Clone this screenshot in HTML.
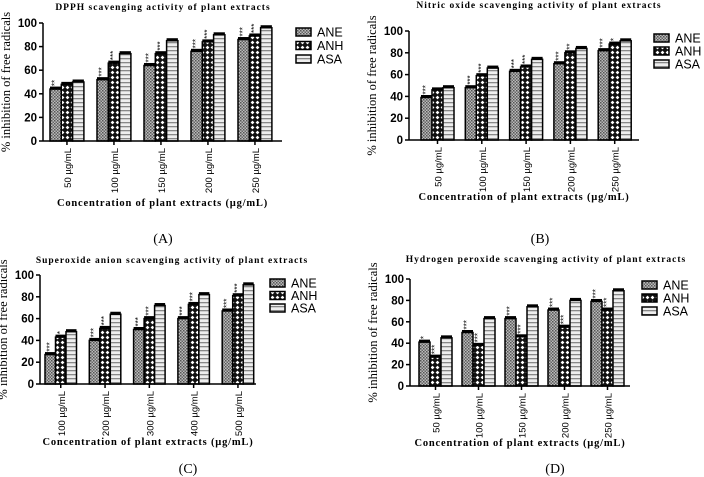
<!DOCTYPE html>
<html><head><meta charset="utf-8"><style>
body{margin:0;background:#fff;}
svg{display:block;font-family:"Liberation Sans",sans-serif;}
.t{font-family:"Liberation Serif",serif;font-weight:bold;}
</style></head><body>
<svg id="s" width="704" height="477" viewBox="0 0 704 477">
<defs>
<pattern id="pANE" width="3" height="3" patternUnits="userSpaceOnUse"><rect width="3" height="3" fill="#bbb"/><rect width="1.5" height="1.5" fill="#555"/><rect x="1.5" y="1.5" width="1.5" height="1.5" fill="#666"/></pattern>
<pattern id="pANH" width="5" height="5" patternUnits="userSpaceOnUse"><rect width="5" height="5" fill="#111"/><path d="M2.5 0.6L4.4 2.5 2.5 4.4 0.6 2.5z" fill="#fff"/></pattern>
<pattern id="pASA" width="4" height="4" patternUnits="userSpaceOnUse"><rect width="4" height="4" fill="#eee"/><rect y="2" width="4" height="1.3" fill="#888"/></pattern>
</defs>
</svg>
<script>
const series = ['ANE','ANH','ASA'];
const catsA = ['50','100','150','200','250'];
const catsC = ['100','200','300','400','500'];
const valsA_ANE=[44,52,64,76,86], valsA_ANH=[48,66,74,84,89], valsA_ASA=[50,74,85,90,96];
const valsB_ANE=[39,48,63,70,82], valsB_ANH=[46,59,67,80,88], valsB_ASA=[48,66,74,84,91];
const valsC_ANE=[27,40,50,60,67], valsC_ANH=[43,51,60,73,81], valsC_ASA=[48,64,72,82,91];
const valsD_ANE=[41,50,63,71,79], valsD_ANH=[27,38,46,55,71], valsD_ASA=[45,63,74,80,89];
const starsA=[['**','***','***','***','***'],['','***','***','***','***'],['','','','','']];
const starsB=[['***','***','***','***','***'],['','***','***','**','*'],['','','','','']];
const starsC=[['***','***','***','***','***'],['*','***','***','***','***'],['','','','','']];
const starsD=[['*','***','***','***','***'],['***','***','***','***','***'],['','','','','']];
const yTicks=[0,20,40,60,80,100];
const NS='http://www.w3.org/2000/svg';
const svg=document.getElementById('s');
function mk(tag,attrs,parent,text){const e=document.createElementNS(NS,tag);for(const k in attrs)e.setAttribute(k,attrs[k]);if(text!==undefined)e.textContent=text;(parent||svg).appendChild(e);return e;}
function panel(cfg){
  const g=mk('g',{});
  
  
  const y=v=>cfg.y0+(cfg.y100-cfg.y0)*v/100;
  const bx=(i,s)=>cfg.first+i*cfg.pitch+s*cfg.bw;
  const tt=mk('text',{x:cfg.tx,y:cfg.ty,'text-anchor':'middle','font-size':'9.5',class:'t','letter-spacing':'1'},g,cfg.title);
  
  
  yTicks.forEach(t=>{
    mk('line',{x1:cfg.ax-4,x2:cfg.ax,y1:y(t),y2:y(t),stroke:'#000','stroke-width':1.5},g);
    const l=mk('text',{x:cfg.ax-6,y:y(t)+4,'text-anchor':'end','font-size':'11.5','font-weight':'bold'},g,t);
    
    
  });
  const yt=mk('text',{transform:`translate(${cfg.ax-33},${(cfg.y0+cfg.y100)/2}) rotate(-90)`,'text-anchor':'middle','font-size':'12.5',style:'font-family:"Liberation Serif",serif'},g,'% inhibition of free radicals');
  
  
  cfg.vals.forEach((arr,s)=>arr.forEach((v,i)=>{
    const r=mk('rect',{x:bx(i,s),y:y(v),width:cfg.bw,height:y(0)-y(v),fill:`url(#p${series[s]})`,stroke:'#000','stroke-width':1.5},g);
    
    
    mk('line',{x1:bx(i,s),x2:bx(i,s)+cfg.bw,y1:y(v)-1,y2:y(v)-1,stroke:'#000','stroke-width':3},g);
    const st=cfg.stars[s][i];
    if(st){const sx=bx(i,s)+cfg.bw/2+2,sy=y(v)-3;
      const e=mk('text',{transform:`translate(${sx},${sy}) rotate(-90)`,'font-size':'8','text-anchor':'start'},g,st);
      
      }
  }));
  mk('line',{x1:cfg.ax,x2:cfg.ax,y1:y(100),y2:y(0),stroke:'#000','stroke-width':1.5},g);
  mk('line',{x1:cfg.ax,x2:cfg.xend,y1:y(0),y2:y(0),stroke:'#000','stroke-width':1.5},g);
  cfg.cats.forEach((c,i)=>{
    const cx=bx(i,1)+cfg.bw/2;
    mk('line',{x1:cx,x2:cx,y1:y(0),y2:y(0)+4,stroke:'#000','stroke-width':1.5},g);
    const l=mk('text',{transform:`translate(${cx+4},${y(0)+7}) rotate(-90)`,'text-anchor':'end','font-size':'9.5'},g,c+' \u00b5g/mL');
    
    
  });
  const xt=mk('text',{x:(cfg.ax+cfg.xend)/2,y:cfg.xty,'text-anchor':'middle','font-size':'10.5',class:'t','letter-spacing':'0.8'},g,'Concentration of plant extracts (\u00b5g/mL)');
  
  
  series.forEach((s,k)=>{
    const ly=cfg.ly+k*cfg.lstep;
    const sw=mk('rect',{x:cfg.lx,y:ly-4,width:15,height:8,fill:`url(#p${s})`,stroke:'#000','stroke-width':1.5},g);
    
    
    const lt=mk('text',{x:cfg.lx+21,y:ly+4.5,'font-size':'12.5'},g,s);
    
    
  });
  const pl=mk('text',{x:cfg.px,y:cfg.py,'text-anchor':'middle','font-size':'14',style:'font-family:"Liberation Serif",serif'},g,cfg.label);
  
  
}
panel({id:'a',title:'DPPH scavenging activity of plant extracts',tx:163,ty:10,ax:43,xend:282,y0:141,y100:23,first:50,pitch:47,bw:11.3,cats:catsA,vals:[valsA_ANE,valsA_ANH,valsA_ASA],stars:starsA,xty:206,lx:296,ly:32,lstep:13.5,label:'(A)',px:163,py:243});
panel({id:'b',title:'Nitric oxide scavenging activity of plant extracts',tx:539,ty:8,ax:409,xend:639,y0:140,y100:31,first:421,pitch:44.3,bw:11,cats:catsA,vals:[valsB_ANE,valsB_ANH,valsB_ASA],stars:starsB,xty:200,lx:654,ly:38,lstep:13,label:'(B)',px:540,py:243});
panel({id:'c',title:'Superoxide anion scavenging activity of plant extracts',tx:172,ty:263,ax:40,xend:256,y0:384,y100:275,first:45,pitch:44.3,bw:10.5,cats:catsC,vals:[valsC_ANE,valsC_ANH,valsC_ASA],stars:starsC,xty:445,lx:270,ly:283,lstep:12.5,label:'(C)',px:188,py:473});
panel({id:'d',title:'Hydrogen peroxide scavenging activity of plant extracts',tx:546,ty:262,ax:410,xend:630,y0:386,y100:279,first:419,pitch:43,bw:11,cats:catsA,vals:[valsD_ANE,valsD_ANH,valsD_ASA],stars:starsD,xty:446,lx:642,ly:285,lstep:13,label:'(D)',px:555,py:473});
</script>
</body></html>
